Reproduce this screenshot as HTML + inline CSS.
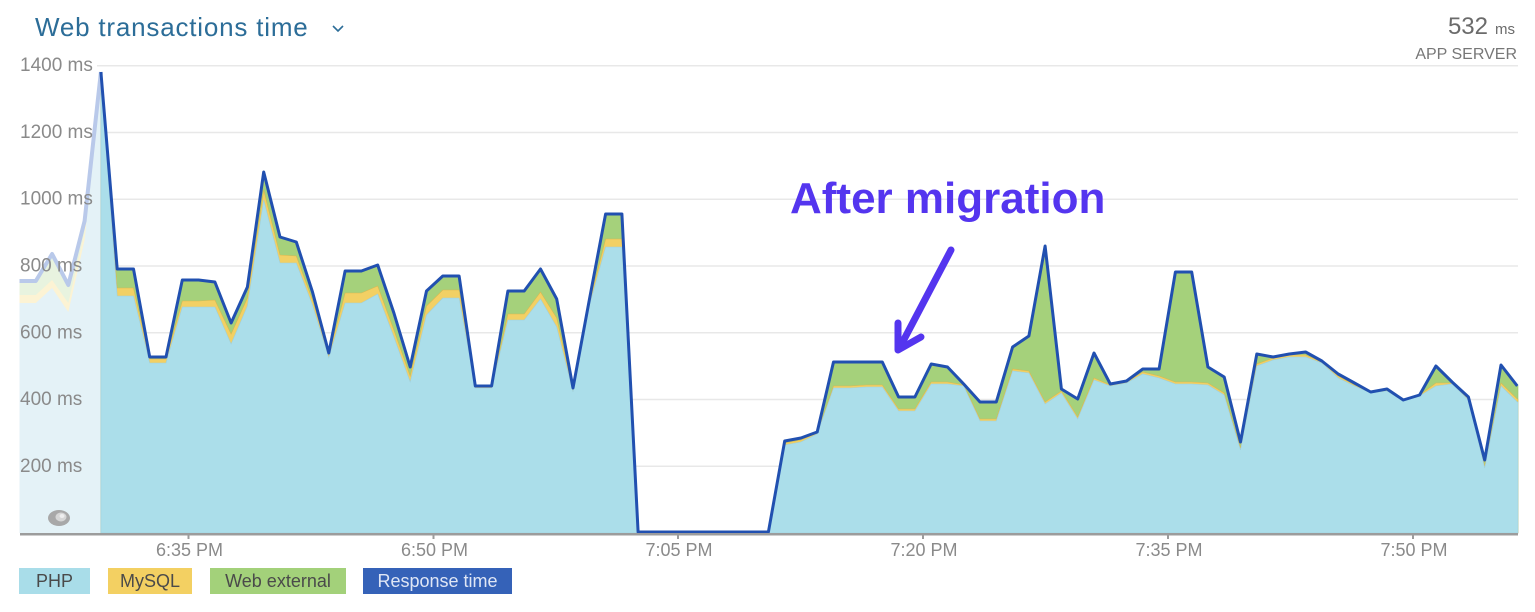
<!DOCTYPE html>
<html>
<head>
<meta charset="utf-8">
<style>
  html,body{margin:0;padding:0;background:#fff;}
  body{width:1535px;height:612px;overflow:hidden;}
  svg{display:block;}
  text{font-family:"Liberation Sans",sans-serif;}
</style>
</head>
<body>
<svg width="1535" height="612" viewBox="0 0 1535 612" xmlns="http://www.w3.org/2000/svg">
  <!-- Title -->
  <text x="35" y="36" font-size="26" fill="#2c6d98" letter-spacing="0.8">Web transactions time</text>
  <polyline points="333,26 338,31 343,26" fill="none" stroke="#2c6d98" stroke-width="1.6"/>

  <!-- Top right -->
  <text x="1488" y="34" font-size="24" fill="#6b6b6b" text-anchor="end">532</text>
  <text x="1495" y="34" font-size="15" fill="#6b6b6b">ms</text>
  <text x="1517" y="59" font-size="16" fill="#777" text-anchor="end">APP SERVER</text>

  <!-- Gridlines -->
  <g stroke="#e8e8e8" stroke-width="1.5">
    <line x1="97" y1="65.7" x2="1518" y2="65.7"/>
    <line x1="97" y1="132.5" x2="1518" y2="132.5"/>
    <line x1="97" y1="199.2" x2="1518" y2="199.2"/>
    <line x1="86" y1="266" x2="1518" y2="266"/>
    <line x1="86" y1="332.8" x2="1518" y2="332.8"/>
    <line x1="86" y1="399.5" x2="1518" y2="399.5"/>
    <line x1="86" y1="466.3" x2="1518" y2="466.3"/>
  </g>

  <!-- Pale region (i=0..5) -->
  <polygon fill="#e8f3df" points="19.5,533 19.5,281 35.8,281 52.1,254 68.3,285 84.6,221 100.9,72 100.9,533"/>
  <polygon fill="#fcf3d4" points="19.5,533 19.5,295 35.8,295 52.1,280 68.3,303 84.6,232 100.9,78 100.9,533"/>
  <polygon fill="#e4f2f7" points="19.5,533 19.5,303 35.8,303 52.1,288 68.3,312 84.6,240 100.9,82 100.9,533"/>
  <polyline fill="none" stroke="#b9c9ea" stroke-width="4" stroke-linejoin="round" points="19.5,281 35.8,281 52.1,254 68.3,285 84.6,221 100.9,72"/>

  <!-- Y labels -->
  <g font-size="19" fill="#8a8a8a">
    <text x="20" y="71">1400 ms</text>
    <text x="20" y="138">1200 ms</text>
    <text x="20" y="204.7">1000 ms</text>
    <text x="20" y="271.5">800 ms</text>
    <text x="20" y="338.3">600 ms</text>
    <text x="20" y="405">400 ms</text>
    <text x="20" y="471.8">200 ms</text>
  </g>

  <!-- Green (Web external) = total -->
  <polygon fill="#a5d17b" stroke="#93c26b" stroke-width="0.6" points="100.9,533 100.9,72 117.2,269 133.5,269 149.7,357 166.0,357 182.3,280 198.6,280 214.9,282 231.1,323 247.4,287 263.7,172 280.0,237 296.3,242 312.5,292 328.8,353 345.1,271 361.4,271 377.7,265 393.9,313 410.2,367 426.5,291 442.8,276 459.1,276 475.3,386 491.6,386 507.9,291 524.2,291 540.5,269 556.7,299 573.0,388 589.3,300 605.6,214 621.9,214 638.1,533 768.4,533 784.7,441 800.9,438 817.2,432 833.5,362 849.8,362 866.1,362 882.3,362 898.6,397 914.9,397 931.2,364 947.5,367 963.7,384 980.0,402 996.3,402 1012.6,347 1028.9,336 1045.1,246 1061.4,389 1077.7,399 1094.0,353 1110.3,384 1126.5,381 1142.8,369 1159.1,369 1175.4,272 1191.7,272 1207.9,367 1224.2,377 1240.5,442 1256.8,354 1273.1,357 1289.3,354 1305.6,352 1321.9,361 1338.2,374 1354.5,383 1370.7,392 1387.0,389 1403.3,400 1419.6,395 1435.9,366 1452.1,382 1468.4,397 1484.7,460 1501.0,365 1517.3,386 1518,386 1518,533"/>

  <!-- Yellow (MySQL) -->
  <polygon fill="#f2d064" stroke="#d8b850" stroke-width="0.6" points="100.9,533 100.9,78 117.2,288 133.5,288 149.7,359 166.0,359 182.3,301 198.6,301 214.9,300 231.1,334 247.4,298 263.7,190 280.0,255 296.3,256 312.5,300 328.8,355 345.1,293 361.4,293 377.7,286 393.9,330 410.2,376 426.5,306 442.8,290 459.1,290 475.3,387 491.6,387 507.9,314 524.2,314 540.5,292 556.7,318 573.0,390 589.3,303 605.6,239 621.9,239 638.1,533 768.4,533 784.7,443 800.9,440 817.2,433 833.5,386 849.8,386 866.1,385 882.3,385 898.6,409 914.9,409 931.2,382 947.5,382 963.7,385 980.0,419 996.3,419 1012.6,369 1028.9,371 1045.1,402 1061.4,391 1077.7,417 1094.0,378 1110.3,385 1126.5,382 1142.8,372 1159.1,376 1175.4,382 1191.7,382 1207.9,383 1224.2,393 1240.5,448 1256.8,364 1273.1,358 1289.3,355 1305.6,355 1321.9,362 1338.2,376 1354.5,385 1370.7,392 1387.0,390 1403.3,400 1419.6,395 1435.9,383 1452.1,383 1468.4,398 1484.7,466 1501.0,383 1517.3,399 1518,399 1518,533"/>

  <!-- PHP -->
  <polygon fill="#abdeea" stroke="#9fcfdb" stroke-width="0.6" points="100.9,533 100.9,82 117.2,296 133.5,296 149.7,363 166.0,363 182.3,307 198.6,307 214.9,307 231.1,344 247.4,306 263.7,200 280.0,263 296.3,263 312.5,305 328.8,358 345.1,303 361.4,303 377.7,294 393.9,337 410.2,382 426.5,315 442.8,298 459.1,298 475.3,388 491.6,388 507.9,320 524.2,320 540.5,299 556.7,327 573.0,392 589.3,306 605.6,247 621.9,247 638.1,533 768.4,533 784.7,445 800.9,442 817.2,434 833.5,388 849.8,388 866.1,387 882.3,387 898.6,411 914.9,411 931.2,384 947.5,384 963.7,386 980.0,421 996.3,421 1012.6,371 1028.9,373 1045.1,404 1061.4,393 1077.7,419 1094.0,380 1110.3,386 1126.5,383 1142.8,374 1159.1,378 1175.4,384 1191.7,384 1207.9,385 1224.2,395 1240.5,450 1256.8,366 1273.1,360 1289.3,357 1305.6,357 1321.9,363 1338.2,378 1354.5,386 1370.7,393 1387.0,391 1403.3,401 1419.6,396 1435.9,386 1452.1,384 1468.4,400 1484.7,468 1501.0,386 1517.3,402 1518,402 1518,533"/>

  <!-- Response time line -->
  <polyline fill="none" stroke="#2150b0" stroke-width="3" stroke-linejoin="round" points="100.9,72 117.2,269 133.5,269 149.7,357 166.0,357 182.3,280 198.6,280 214.9,282 231.1,323 247.4,287 263.7,172 280.0,237 296.3,242 312.5,292 328.8,353 345.1,271 361.4,271 377.7,265 393.9,313 410.2,367 426.5,291 442.8,276 459.1,276 475.3,386 491.6,386 507.9,291 524.2,291 540.5,269 556.7,299 573.0,388 589.3,300 605.6,214 621.9,214 638.1,532 768.4,532 784.7,441 800.9,438 817.2,432 833.5,362 849.8,362 866.1,362 882.3,362 898.6,397 914.9,397 931.2,364 947.5,367 963.7,384 980.0,402 996.3,402 1012.6,347 1028.9,336 1045.1,246 1061.4,389 1077.7,399 1094.0,353 1110.3,384 1126.5,381 1142.8,369 1159.1,369 1175.4,272 1191.7,272 1207.9,367 1224.2,377 1240.5,442 1256.8,354 1273.1,357 1289.3,354 1305.6,352 1321.9,361 1338.2,374 1354.5,383 1370.7,392 1387.0,389 1403.3,400 1419.6,395 1435.9,366 1452.1,382 1468.4,397 1484.7,460 1501.0,365 1517.3,386"/>

  <!-- Eye icon -->
  <ellipse cx="59" cy="518" rx="11" ry="8" fill="#a8a8a8"/>
  <ellipse cx="61" cy="517" rx="5.5" ry="4.5" fill="#d6d6d6"/>
  <ellipse cx="62" cy="516" rx="2.5" ry="2" fill="#eeeeee"/>

  <!-- X axis -->
  <rect x="20" y="533" width="1498" height="2.5" fill="#9c9c9c"/>
  <g fill="#9c9c9c">
    <rect x="187.5" y="535" width="2" height="4"/>
    <rect x="432.5" y="535" width="2" height="4"/>
    <rect x="677" y="535" width="2" height="4"/>
    <rect x="922" y="535" width="2" height="4"/>
    <rect x="1167" y="535" width="2" height="4"/>
    <rect x="1412" y="535" width="2" height="4"/>
  </g>
  <g font-size="18" fill="#8a8a8a" text-anchor="middle">
    <text x="189.5" y="556">6:35 PM</text>
    <text x="434.5" y="556">6:50 PM</text>
    <text x="679" y="556">7:05 PM</text>
    <text x="924" y="556">7:20 PM</text>
    <text x="1169" y="556">7:35 PM</text>
    <text x="1414" y="556">7:50 PM</text>
  </g>

  <!-- Annotation -->
  <text x="790" y="213" font-size="44" font-weight="bold" fill="#5435ef">After migration</text>
  <g stroke="#5435ef" stroke-width="7" stroke-linecap="round" stroke-linejoin="round" fill="none">
    <line x1="951" y1="250" x2="899" y2="349"/>
    <polyline points="898,323 898,350 921,337"/>
  </g>

  <!-- Legend -->
  <rect x="19" y="568" width="71" height="26" fill="#a9dde9"/>
  <text x="54.5" y="587" font-size="18" fill="#4a4a4a" text-anchor="middle">PHP</text>
  <rect x="108" y="568" width="84" height="26" fill="#f3d062"/>
  <text x="150" y="587" font-size="18" fill="#4a4a4a" text-anchor="middle">MySQL</text>
  <rect x="210" y="568" width="136" height="26" fill="#a3d17a"/>
  <text x="278" y="587" font-size="18" fill="#4a4a4a" text-anchor="middle">Web external</text>
  <rect x="363" y="568" width="149" height="26" fill="#3562b8"/>
  <text x="437.5" y="587" font-size="18" fill="#dfe6f5" text-anchor="middle">Response time</text>
</svg>
</body>
</html>
